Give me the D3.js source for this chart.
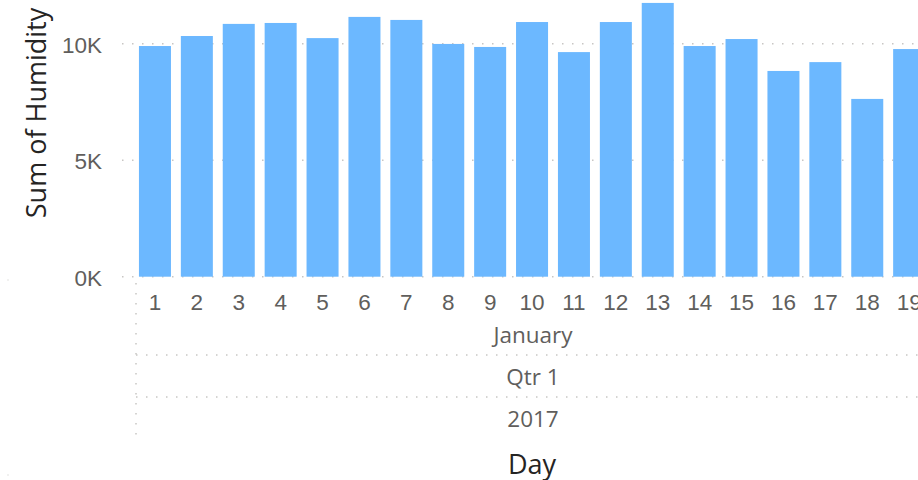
<!DOCTYPE html>
<html>
<head>
<meta charset="utf-8">
<script src="https://cdn.jsdelivr.net/npm/d3@7"></script>
<style>
  html, body { margin: 0; padding: 0; background: #fff; overflow: hidden; }
  svg { display: block; font-family: "Segoe UI", "Open Sans", sans-serif; }
</style>
</head>
<body>
<svg id="chart" width="918" height="480"></svg>
<script>
const days = ["1","2","3","4","5","6","7","8","9","10","11","12","13","14","15","16","17","18","19"];
const humidity = [9900, 10330, 10850, 10890, 10240, 11150, 11020, 9990, 9860, 10930, 9640, 10930, 11750, 9900, 10200, 8830, 9210, 7630, 9770];
const yTicks = [0, 5000, 10000];
const hierarchyLabels = ["January", "Qtr 1", "2017"];
const yTitle = "Sum of Humidity";
const xTitle = "Day";

const svg = d3.select("#chart");
const W = 918, H = 480;
const x0 = 134, step = 41.9;
const x = d3.scaleBand().domain(days).range([x0, x0 + step * days.length]).paddingInner(0.236).paddingOuter(0.118);
const y = d3.scaleLinear().domain([0, 10000]).range([276.7, 43.7]);

const grid = "#c8c6c4";
const tickColor = "#605e5c";

// y axis labels
const yAxis = d3.axisLeft(y).tickValues(yTicks).tickSize(0).tickPadding(0)
  .tickFormat(d => d3.format(".0f")(d / 1000) + "K");
const gy = svg.append("g").attr("transform", "translate(102,0)").call(yAxis);
gy.select(".domain").remove();
gy.selectAll("text").attr("x", 0).attr("dy", "0.37em").attr("fill", tickColor)
  .style("font-size", "22.5px").attr("text-anchor", "end");

// horizontal gridlines
svg.append("g").selectAll("line").data(yTicks).join("line")
  .attr("x1", 122).attr("x2", W).attr("y1", d => y(d)).attr("y2", d => y(d))
  .attr("stroke", grid).attr("stroke-width", 1.5).attr("stroke-dasharray", "1.5 8.5");

// bars
svg.append("g").selectAll("rect").data(days).join("rect")
  .attr("x", d => x(d)).attr("width", x.bandwidth())
  .attr("y", (d, i) => y(humidity[i]))
  .attr("height", (d, i) => y(0) - y(humidity[i]))
  .attr("fill", "#6cb8ff");

// x axis day labels
const xAxis = d3.axisBottom(x).tickSize(0).tickPadding(0);
const gx = svg.append("g").attr("transform", "translate(0,309.5)").call(xAxis);
gx.select(".domain").remove();
gx.selectAll("text").attr("y", 0).attr("dy", 0).attr("fill", tickColor).style("font-size", "22.5px");

// hierarchy separators
const sepY = [355, 397];
svg.append("g").selectAll("line").data(sepY).join("line")
  .attr("x1", 136).attr("x2", W).attr("y1", d => d).attr("y2", d => d)
  .attr("stroke", grid).attr("stroke-width", 1.5).attr("stroke-dasharray", "1.5 8.5");
svg.append("line").attr("x1", 136).attr("x2", 136).attr("y1", 283).attr("y2", 440)
  .attr("stroke", grid).attr("stroke-width", 1.5).attr("stroke-dasharray", "1.5 8.5");

// hierarchy labels
const hierY = [343, 385, 427];
svg.append("g").selectAll("text").data(hierarchyLabels).join("text")
  .attr("x", 533).attr("y", (d, i) => hierY[i]).attr("text-anchor", "middle")
  .attr("fill", tickColor).style("font-size", "22.5px").text(d => d);

// small corner dots
svg.append("g").selectAll("rect").data([280, 475]).join("rect")
  .attr("x", 7.5).attr("y", d => d - 0.5).attr("width", 1).attr("height", 1).attr("fill", grid);

// axis titles
svg.append("text").attr("transform", "translate(46,113) rotate(-90)")
  .attr("text-anchor", "middle").attr("fill", "#252423").style("font-size", "27px").text(yTitle);
svg.append("text").attr("x", 532).attr("y", 474).attr("text-anchor", "middle")
  .attr("fill", "#252423").style("font-size", "27px").text(xTitle);
</script>
</body>
</html>
